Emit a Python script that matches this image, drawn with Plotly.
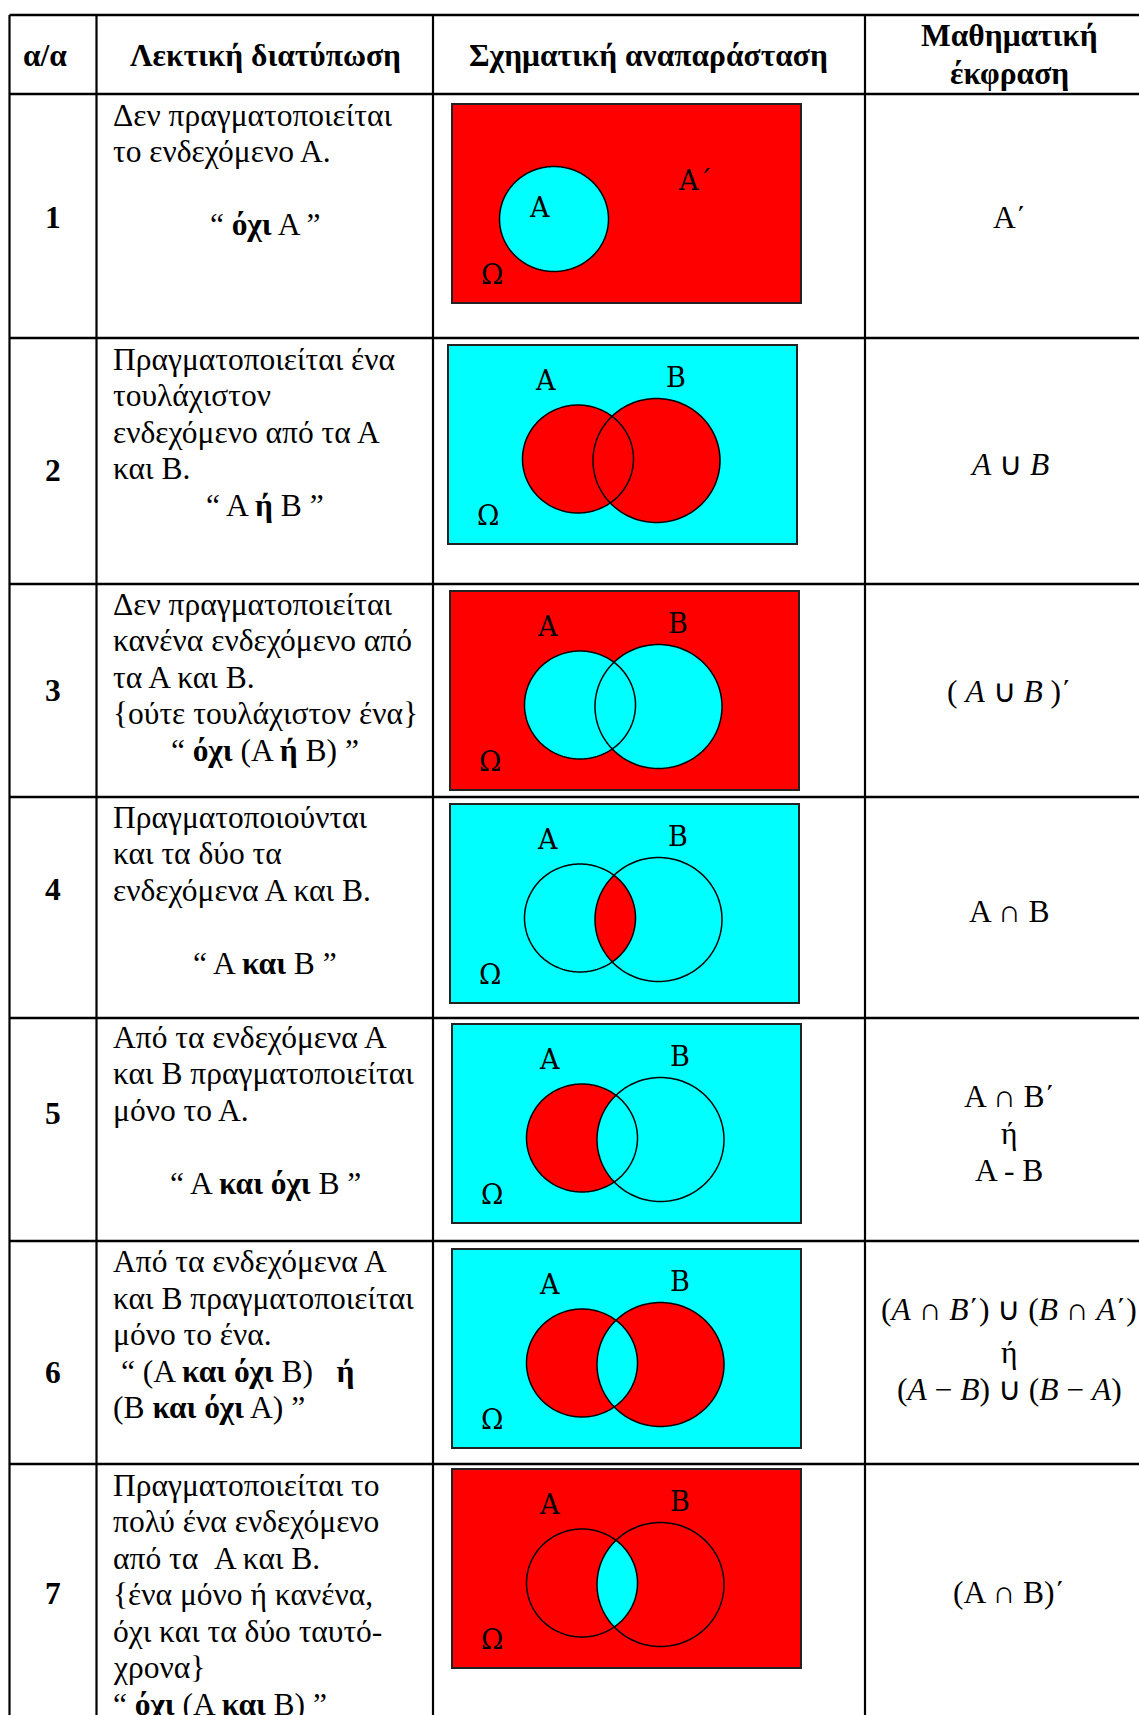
import numpy as np
import plotly.graph_objects as go

W, H = 1139, 1715

# --- Table content ---
headers = ["<b>α/α</b>", "<b>Λεκτική διατύπωση</b>", "<b>Σχηματική αναπαράσταση</b>"]
header_last = ["<b>Μαθηματική</b>", "<b>έκφραση</b>"]
row_numbers = ["1", "2", "3", "4", "5", "6", "7"]

# "c:" prefix = centred line, otherwise left aligned
descriptions = [
    ["Δεν πραγματοποιείται", "το ενδεχόμενο Α.", "", "c:“ <b>όχι</b> Α ”"],
    ["Πραγματοποιείται ένα", "τουλάχιστον", "ενδεχόμενο από τα Α", "και Β.", "c:“ Α <b>ή</b> Β ”"],
    ["Δεν πραγματοποιείται", "κανένα ενδεχόμενο από", "τα Α και Β.",
     "{ούτε τουλάχιστον ένα}", "c:“ <b>όχι</b> (Α <b>ή</b> Β) ”"],
    ["Πραγματοποιούνται", "και τα δύο τα", "ενδεχόμενα Α και Β.", "", "c:“ Α <b>και</b> Β ”"],
    ["Από τα ενδεχόμενα Α", "και Β πραγματοποιείται", "μόνο το Α.", "", "c:“ Α <b>και όχι</b> Β ”"],
    ["Από τα ενδεχόμενα Α", "και Β πραγματοποιείται", "μόνο το ένα.",
     "\u00a0“ (Α <b>και όχι</b> Β)\u00a0\u00a0\u00a0<b>ή</b>", "(Β <b>και όχι</b> Α) ”"],
    ["Πραγματοποιείται το", "πολύ ένα ενδεχόμενο", "από τα \u00a0Α και Β.",
     "{ένα μόνο ή κανένα,", "όχι και τα δύο ταυτό-", "χρονα}", "“ <b>όχι</b> (Α <b>και</b> Β) ”"],
]

formulas = [
    ["Α΄"],
    ["<i>A</i> ∪ <i>B</i>"],
    ["( <i>A</i> ∪ <i>B</i> )΄"],
    ["Α ∩ Β"],
    ["Α ∩ Β΄", "ή", "Α - Β"],
    ["(<i>A</i> ∩ <i>B</i>΄) ∪ (<i>B</i> ∩ <i>A</i>΄)", "ή",
     "(<i>A</i> − <i>B</i>) ∪ (<i>B</i> − <i>A</i>)"],
    ["(Α ∩ Β)΄"],
]

venn_types = ["notA", "union", "notunion", "inter", "Aonly", "xor", "notinter"]

# --- Geometry (pixels) ---
col_x = [9.5, 96.5, 433, 865]
row_y = [15, 94, 338, 584, 797, 1018, 1241, 1464]
num_y = [217, 470, 690, 889, 1113, 1372, 1593]
desc_y0 = [115, 359, 604, 817, 1037, 1261.5, 1485]
line_step = 36.5
formula_y = [[217], [464], [691.5], [911], [1096.5, 1133.5, 1170.5], [1309.5, 1352, 1389.5], [1592]]
rect_left = [452, 448, 450, 450, 452, 452, 452]
rect_top = [104, 345, 591, 804, 1024, 1249, 1469]
rect_w, rect_h = 349, 199

RED, CYAN = "#ff0000", "#00ffff"
SERIF = "Liberation Serif"
FS = 31.5

fig = go.Figure()
shapes = []
annotations = []


def ellipse_path(cx, cy, rx, ry, n=160):
    t = np.linspace(0, 2 * np.pi, n, endpoint=False)
    xs = cx + rx * np.cos(t)
    ys = cy + ry * np.sin(t)
    pts = " L".join(f"{x:.2f},{y:.2f}" for x, y in zip(xs, ys))
    return "M" + pts + " Z"


def add_text(x, y, text, anchor="center", size=FS, family=SERIF):
    annotations.append(dict(x=x, y=y, xref="x", yref="y", text=text, showarrow=False,
                            xanchor=anchor, yanchor="middle",
                            font=dict(family=family, size=size, color="black")))


def fill_path(path, color):
    shapes.append(dict(type="path", path=path, xref="x", yref="y", fillcolor=color,
                       line=dict(width=0), fillrule="evenodd", layer="above"))


def outline(path):
    shapes.append(dict(type="path", path=path, xref="x", yref="y",
                       line=dict(color="black", width=1.5), layer="above"))


# --- Venn diagrams ---
lab = dict(family="DejaVu Serif", size=27)
for i, kind in enumerate(venn_types):
    x0, y0 = rect_left[i], rect_top[i]
    bg = RED if kind in ("notA", "notunion", "notinter") else CYAN
    shapes.append(dict(type="rect", x0=x0, x1=x0 + rect_w, y0=y0, y1=y0 + rect_h,
                       xref="x", yref="y", fillcolor=bg,
                       line=dict(color="#222222", width=2), layer="above"))
    if kind == "notA":
        pa = ellipse_path(x0 + 102, y0 + 115, 54.5, 52.5)
        fill_path(pa, CYAN)
        outline(pa)
        add_text(x0 + 87, y0 + 103, "A", **lab)
        add_text(x0 + 243, y0 + 76, "A΄", **lab)
        add_text(x0 + 40, y0 + 170, "Ω", **lab)
        continue
    pa = ellipse_path(x0 + 130, y0 + 114, 55.5, 54)
    pb = ellipse_path(x0 + 208.5, y0 + 115.5, 63.5, 62)
    if kind == "union":
        fill_path(pa, RED); fill_path(pb, RED)
    elif kind == "notunion":
        fill_path(pa, CYAN); fill_path(pb, CYAN)
    elif kind == "inter":
        fill_path(pa, RED); fill_path(pb, RED); fill_path(pa + " " + pb, CYAN)
    elif kind == "Aonly":
        fill_path(pa, RED); fill_path(pb, CYAN)
    elif kind == "xor":
        fill_path(pa + " " + pb, RED)
    elif kind == "notinter":
        fill_path(pa, CYAN); fill_path(pb, CYAN); fill_path(pa + " " + pb, RED)
    outline(pa)
    outline(pb)
    add_text(x0 + 97.5, y0 + 35.5, "A", **lab)
    add_text(x0 + 228, y0 + 32, "B", **lab)
    add_text(x0 + 40, y0 + 170, "Ω", **lab)

# --- Table grid ---
for y in row_y:
    shapes.append(dict(type="line", x0=col_x[0], x1=W + 20, y0=y, y1=y, xref="x", yref="y",
                       line=dict(color="black", width=2.5), layer="above"))
for x in col_x:
    shapes.append(dict(type="line", x0=x, x1=x, y0=row_y[0], y1=H + 20, xref="x", yref="y",
                       line=dict(color="black", width=2.2), layer="above"))

# --- Header ---
add_text(45, 55, headers[0])
add_text(265, 55, headers[1])
add_text(648, 55, headers[2])
add_text(1009, 35, header_last[0])
add_text(1009, 73, header_last[1])

# --- Rows ---
for i in range(len(row_numbers)):
    add_text(52.5, num_y[i], "<b>" + row_numbers[i] + "</b>")
    for k, line in enumerate(descriptions[i]):
        if not line:
            continue
        y = desc_y0[i] + k * line_step
        if line.startswith("c:"):
            add_text(265, y, line[2:])
        else:
            add_text(111, y, line, anchor="left")
    for line, y in zip(formulas[i], formula_y[i]):
        add_text(1009, y, line)

fig.update_layout(
    width=W, height=H,
    margin=dict(l=0, r=0, t=0, b=0),
    paper_bgcolor="white", plot_bgcolor="white",
    xaxis=dict(range=[0, W], visible=False, fixedrange=True),
    yaxis=dict(range=[H, 0], visible=False, fixedrange=True),
    shapes=shapes, annotations=annotations,
    showlegend=False,
)

fig.write_html("out.html", config={"displayModeBar": False},
               post_script="document.body.style.margin='0px';")
